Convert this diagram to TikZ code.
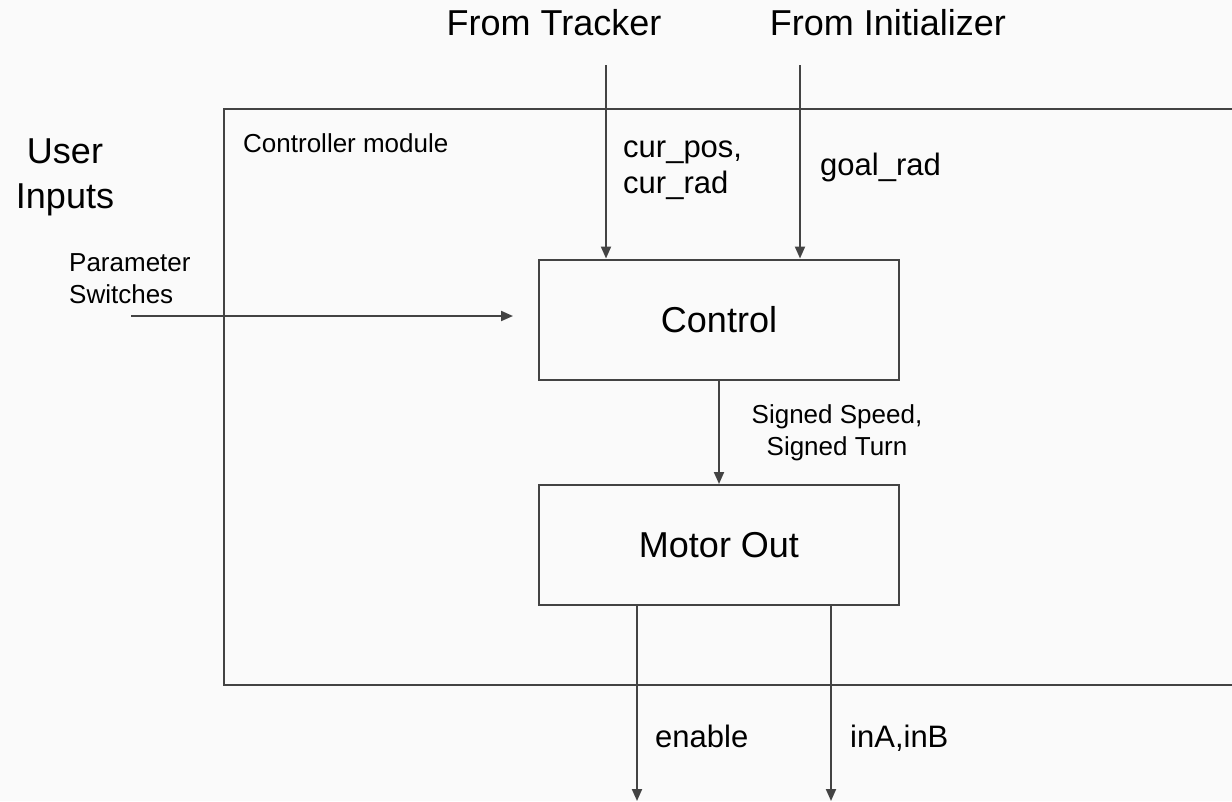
\documentclass[tikz,border=0pt]{standalone}
\usepackage{fontspec}
\setmainfont{Liberation Sans}
\usetikzlibrary{arrows.meta}
\definecolor{linegray}{RGB}{67,67,67}
\definecolor{bgwhite}{RGB}{250,250,250}
\newcommand\bigtxt{\fontsize{36}{45}\selectfont}
\newcommand\midtxt{\fontsize{31}{36}\selectfont}
\newcommand\smalltxt{\fontsize{26}{32}\selectfont}

\begin{document}
\begin{tikzpicture}[x=1pt,y=-1pt,
  arr/.style={line width=2pt, draw=linegray, -{Triangle[length=12pt,width=10pt]}},
  blk/.style={draw=linegray, line width=2pt, minimum width=360pt, minimum height=120pt, font=\bigtxt},
  lbl/.style={inner sep=0pt, align=left}]
\clip (0,0) rectangle (1232,801);
\fill[bgwhite] (0,0) rectangle (1232,801);

\draw[draw=linegray, line width=2pt] (224,109) rectangle (1260,685);
\node[lbl, font=\smalltxt, anchor=base west] (modtxt) at (243,152) {Controller module};

\node[blk] (ctrl) at (719,319.5) {Control};
\node[blk] (motor) at (719,545) {Motor Out};

\node[lbl, font=\bigtxt, anchor=base] (trktxt) at (554,35) {From Tracker};
\node[lbl, font=\bigtxt, anchor=base] (inittxt) at (888,35) {From Initializer};
\coordinate (trk) at (606,65);
\coordinate (init) at (800,65);
\draw[arr] (trk) -- (trk |- ctrl.north);
\draw[arr] (init) -- (init |- ctrl.north);
\node[lbl, font=\midtxt, anchor=base west] (curtxt) at (623,193) {cur\_pos,\\cur\_rad};
\node[lbl, font=\midtxt, anchor=base west] (goaltxt) at (820,175) {goal\_rad};

\node[lbl, font=\bigtxt, align=center, anchor=base] (usertxt) at (65,208) {User\\Inputs};
\node[lbl, font=\smalltxt, anchor=base west] (partxt) at (69,303) {Parameter\\Switches};
\coordinate (par) at (131,316);
\draw[arr] (par) -- ([xshift=-25pt]par -| ctrl.west);

\draw[arr] (ctrl) -- (motor);
\node[lbl, font=\smalltxt, align=center, anchor=base] (sigtxt) at (837,455) {Signed Speed,\\Signed Turn};

\coordinate (en) at (637,801);
\coordinate (inab) at (831,801);
\draw[arr] (motor.south -| en) -- (en);
\draw[arr] (motor.south -| inab) -- (inab);
\node[lbl, font=\midtxt, anchor=base west] (entxt) at (655,747) {enable};
\node[lbl, font=\midtxt, anchor=base west] (inabtxt) at (850,747) {inA,inB};
\end{tikzpicture}
\end{document}
